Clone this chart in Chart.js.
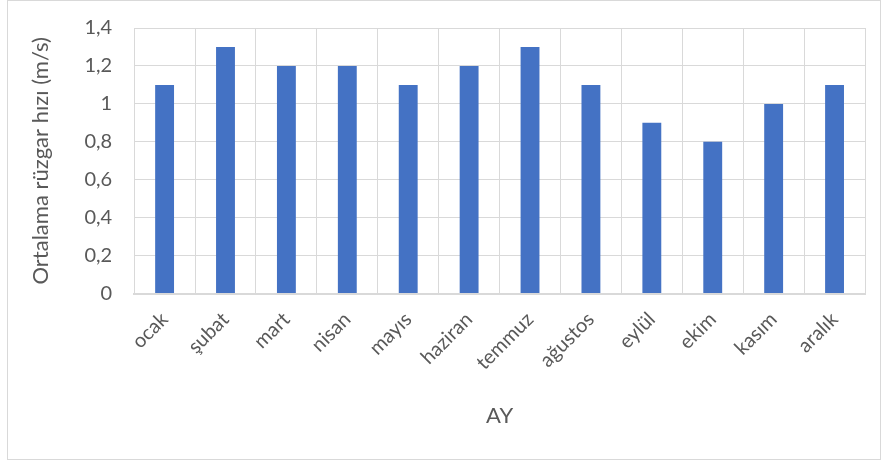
<!DOCTYPE html>
<html>
<head>
<meta charset="utf-8">
<script src="https://cdn.jsdelivr.net/npm/chart.js@4"></script>
<style>
html,body{margin:0;padding:0;background:#fff;}
#wrap{position:absolute;left:0;top:0;width:883px;height:463px;}
</style>
</head>
<body>
<div id="wrap"><canvas id="c" width="883" height="463"></canvas></div>
<script>
const categories = ["ocak","şubat","mart","nisan","mayıs","haziran","temmuz","ağustos","eylül","ekim","kasım","aralık"];
const windSpeed = [1.1,1.3,1.2,1.2,1.1,1.2,1.3,1.1,0.9,0.8,1.0,1.1];
const yTitle = "Ortalama rüzgar hızı (m/s)";
const xTitle = "AY";

const FONT = "Lato, 'Open Sans', sans-serif";
const frame = {
  id:'frame',
  beforeDraw(chart){
    const ctx = chart.ctx;
    ctx.save();
    ctx.fillStyle='#fff';
    ctx.fillRect(0,0,chart.width,chart.height);
    ctx.strokeStyle='#d9d9d9';
    ctx.lineWidth=1;
    ctx.strokeRect(7.5,0.5,873,459);
    ctx.restore();
  }
};
new Chart(document.getElementById('c'),{
  type:'bar',
  data:{labels:categories,datasets:[{data:windSpeed,backgroundColor:'#4472C4',barPercentage:0.31,categoryPercentage:1}]},
  options:{
    responsive:false,animation:false,
    layout:{padding:{left:24,right:18,top:16,bottom:30}},
    plugins:{legend:{display:false},tooltip:{enabled:false}},
    scales:{
      x:{
        grid:{color:'#d9d9d9',offset:true,drawTicks:false},
        border:{color:'#d9d9d9',width:2},
        ticks:{color:'#595959',font:{family:FONT,size:20},maxRotation:45,minRotation:45,padding:14},
        title:{display:true,text:xTitle,color:'#595959',font:{family:FONT,size:22},padding:{top:14}}
      },
      y:{
        min:0,max:1.4,
        grid:{color:'#d9d9d9',drawTicks:false},
        border:{display:false},
        ticks:{stepSize:0.2,color:'#595959',font:{family:FONT,size:20,lineHeight:0.6},padding:22,
          callback:v=>String(Math.round(v*10)/10).replace('.',',')},
        title:{display:true,text:yTitle,color:'#595959',font:{family:FONT,size:22},padding:{bottom:8}}
      }
    }
  },
  plugins:[frame]
});
</script>
</body>
</html>
